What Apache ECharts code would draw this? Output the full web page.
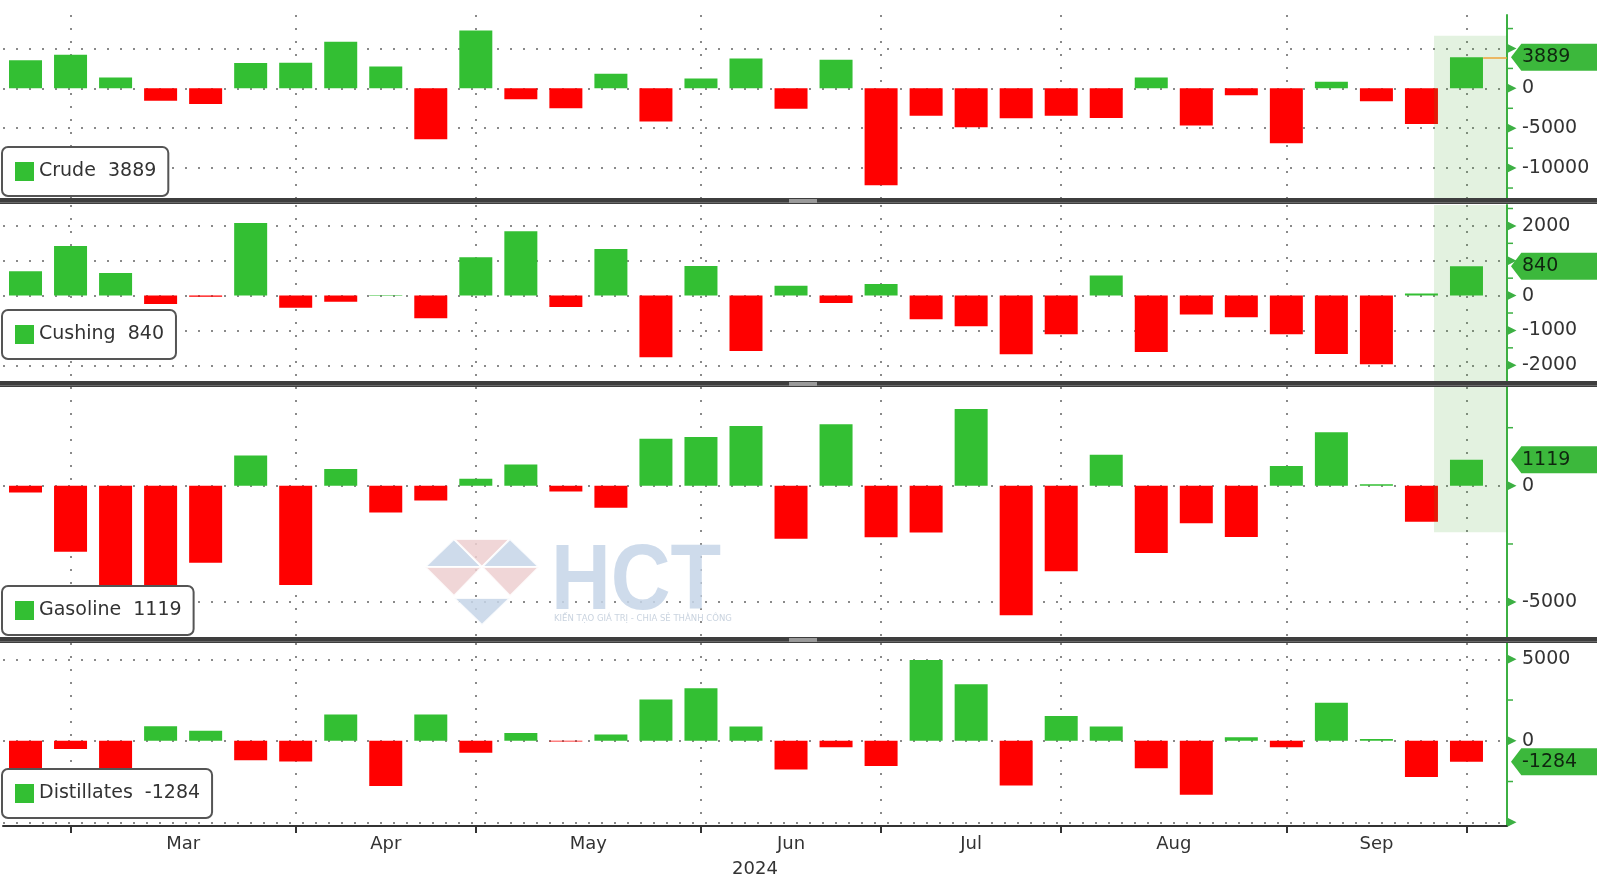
<!DOCTYPE html>
<html><head><meta charset="utf-8">
<script src="https://cdn.jsdelivr.net/npm/echarts@6/dist/echarts.min.js"></script>
<style>html,body{margin:0;padding:0;background:#fff}#c{width:1600px;height:890px}</style>
</head><body><div id="c"></div>
<script>
// ---------------- DATA ----------------
const weeks = ['2024-02-23','2024-03-01','2024-03-08','2024-03-15','2024-03-22','2024-03-29','2024-04-05','2024-04-12','2024-04-19','2024-04-26','2024-05-03','2024-05-10','2024-05-17','2024-05-24','2024-05-31','2024-06-07','2024-06-14','2024-06-21','2024-06-28','2024-07-05','2024-07-12','2024-07-19','2024-07-26','2024-08-02','2024-08-09','2024-08-16','2024-08-23','2024-08-30','2024-09-06','2024-09-13','2024-09-20','2024-09-27','2024-10-04'];
const monthNames = ['Jan','Feb','Mar','Apr','May','Jun','Jul','Aug','Sep','Oct','Nov','Dec'];
const yearLabel = '2024';
const seriesNames = ['Crude','Cushing','Gasoline','Distillates'];
const crude = [3510, 4200, 1370, -1540, -1950, 3170, 3210, 5840, 2740, -6370, 7270, -1360, -2510, 1830, -4160, 1230, 3730, -2550, 3590, -12160, -3440, -4870, -3740, -3440, -3730, 1360, -4650, -850, -6870, 830, -1630, -4470, 3889];
const cushing = [700, 1420, 650, -240, -30, 2080, -350, -180, 20, -650, 1100, 1850, -330, 1340, -1770, 850, -1590, 285, -210, 335, -680, -880, -1680, -1110, 575, -1620, -545, -625, -1110, -1675, -1970, 60, 840];
const gasoline = [-290, -2830, -4460, -5660, -3310, 1300, -4260, 720, -1150, -630, 310, 915, -240, -940, 2020, 2100, 2570, -2280, 2650, -2210, -2010, 3300, -5570, -3670, 1340, -2890, -1610, -2200, 850, 2300, 70, -1540, 1119];
const distillates = [-4010, -500, -4130, 890, 620, -1190, -1270, 1610, -2780, 1610, -730, 480, -50, 380, 2540, 3230, 880, -1760, -390, -1550, 4950, 3470, -2750, 1520, 880, -1680, -3310, 220, -390, 2340, 110, -2230, -1284];
// axis ranges and ticks (value units)
const crudeRange = [-13750, 9200], crudeMajor = [5000, 0, -5000, -10000], crudeLabels = [0, -5000, -10000], crudeMinor = [7500, 2500, -2500, -7500, -12500];
const cushingRange = [-2480, 2600], cushingMajor = [2000, 1000, 0, -1000, -2000], cushingLabels = [2000, 0, -1000, -2000], cushingMinor = [2500, 1500, 500, -500, -1500];
const gasolineRange = [-6500, 4250], gasolineMajor = [0, -5000], gasolineLabels = [0, -5000], gasolineMinor = [2500, -2500];
const distillatesRange = [-5230, 6000], distillatesMajor = [5000, 0, -5000], distillatesLabels = [5000, 0], distillatesMinor = [2500, -2500];
// highlighted (latest) period shading, value extents per panel
const crudeShade = [6600, -13750], cushingShade = [2600, -2480], gasolineShade = [4250, -2000];

// ---------------- STYLE / LAYOUT ----------------
const FONT = "'DejaVu Sans', 'Noto Sans', sans-serif";
const GREEN = '#33bf33', RED = '#ff0000', AXIS_GREEN = '#3cb043', TEXT = '#333';
const X_MIN = -0.5, X_MAX = 32.9;
const layout = [
  {top: 15, height: 183, legendTop: 147},
  {top: 205, height: 177, legendTop: 310},
  {top: 387, height: 250, legendTop: 586},
  {top: 643, height: 183, legendTop: 769}
];
const DOT = {color: '#8a8a8a', width: 2, type: [2, 11]};
const TAG_PATH = 'path://M0,50 L12,0 L100,0 L100,100 L12,100 Z';

const monthStartIdx = weeks.map((d, i) => (i > 0 && d.slice(5, 7) !== weeks[i - 1].slice(5, 7)) ? i : -1).filter(i => i >= 0);
const monthLabelPos = [], monthLabelText = [];
for (let k = 0; k + 1 < monthStartIdx.length; k++) {
  monthLabelPos.push((monthStartIdx[k] + monthStartIdx[k + 1]) / 2);
  monthLabelText.push(monthNames[+weeks[monthStartIdx[k]].slice(5, 7) - 1]);
}

const panels = [
  {name: seriesNames[0], values: crude, range: crudeRange, major: crudeMajor, labels: crudeLabels, minor: crudeMinor, shade: crudeShade, lastLine: true},
  {name: seriesNames[1], values: cushing, range: cushingRange, major: cushingMajor, labels: cushingLabels, minor: cushingMinor, shade: cushingShade},
  {name: seriesNames[2], values: gasoline, range: gasolineRange, major: gasolineMajor, labels: gasolineLabels, minor: gasolineMinor, shade: gasolineShade},
  {name: seriesNames[3], values: distillates, range: distillatesRange, major: distillatesMajor, labels: distillatesLabels, minor: distillatesMinor}
];

const option = {animation: false, backgroundColor: '#fff', grid: [], xAxis: [], yAxis: [], series: [], legend: [], graphic: []};
const lastIdx = weeks.length - 1;

panels.forEach((p, k) => {
  const L = layout[k];
  const isBottom = k === panels.length - 1;
  const last = p.values[lastIdx];
  option.grid.push({left: 3, right: 93, top: L.top, height: L.height});
  option.xAxis.push({
    type: 'value', gridIndex: k, min: X_MIN, max: X_MAX,
    axisLine: {show: isBottom, onZero: false, lineStyle: {color: '#333', width: 2}},
    axisTick: {show: isBottom, customValues: monthStartIdx, length: 7, lineStyle: {color: '#333', width: 2}},
    axisLabel: {show: isBottom, customValues: monthLabelPos, margin: 9,
      formatter: v => monthLabelText[monthLabelPos.indexOf(v)] || '',
      color: TEXT, fontSize: 18, fontFamily: FONT},
    splitLine: {show: true, lineStyle: DOT},
    name: isBottom ? yearLabel : '', nameLocation: 'middle', nameGap: 34,
    nameTextStyle: {color: TEXT, fontSize: 18, fontFamily: FONT}
  });
  option.yAxis.push({
    type: 'value', gridIndex: k, position: 'right', min: p.range[0], max: p.range[1],
    axisLine: {show: true, onZero: false, lineStyle: {color: AXIS_GREEN, width: 2}},
    axisTick: {show: false, customValues: p.major},
    axisLabel: {customValues: p.labels, margin: 15, color: TEXT, fontSize: 19, fontFamily: FONT,
      formatter: v => String(v)},
    splitLine: {show: true, lineStyle: DOT}
  });

  const mpData = p.major.map(v => ({
    coord: [X_MAX, v], symbol: 'triangle', symbolSize: [9, 9], symbolRotate: -90, symbolOffset: [5, 0],
    itemStyle: {color: AXIS_GREEN}, label: {show: false}
  })).concat(p.minor.filter(v => v > p.range[0] && v < p.range[1]).map(v => ({
    coord: [X_MAX, v], symbol: 'rect', symbolSize: [6, 1.5], symbolOffset: [3, 0],
    itemStyle: {color: AXIS_GREEN}, label: {show: false}
  })));
  mpData.push({
    coord: [X_MAX, last], symbol: TAG_PATH, symbolSize: [86, 27], symbolOffset: [47, 0],
    itemStyle: {color: '#3cb83c'},
    label: {show: true, position: 'insideLeft', distance: 11, formatter: String(last),
      color: '#0f260f', fontSize: 19, fontFamily: FONT}
  });

  const s = {
    type: 'bar', name: p.name, xAxisIndex: k, yAxisIndex: k, barWidth: 33, z: 2,
    data: p.values.map((v, i) => [i, v]),
    itemStyle: {color: prm => prm.value[1] >= 0 ? GREEN : RED},
    markPoint: {silent: true, z: 6, data: mpData}
  };
  if (p.shade) {
    s.markArea = {silent: true, z: 3, itemStyle: {color: 'rgba(70,165,50,0.15)'},
      data: [[{coord: [lastIdx - 0.72, p.shade[0]]}, {coord: [X_MAX, p.shade[1]]}]]};
  }
  if (p.lastLine) {
    s.markLine = {silent: true, z: 4, symbol: ['none', 'none'], label: {show: false},
      lineStyle: {color: '#eea53a', width: 1.5, type: 'solid'},
      data: [[{coord: [lastIdx + 0.37, last]}, {coord: [X_MAX, last]}]]};
  }
  option.series.push(s);

  option.legend.push({
    left: 2, top: L.legendTop, orient: 'horizontal', selectedMode: false, z: 10,
    data: [{name: p.name, itemStyle: {color: GREEN}}], icon: 'rect',
    itemWidth: 19, itemHeight: 19, padding: [15, 12, 15, 13],
    borderColor: '#555', borderWidth: 2, borderRadius: 6, backgroundColor: '#fff',
    formatter: n => n + '  ' + last,
    textStyle: {fontSize: 19, color: TEXT, fontFamily: FONT}
  });
});

// panel separators
[198, 381, 637].forEach(y => {
  option.graphic.push({type: 'rect', z: 20, silent: true, shape: {x: 0, y: y, width: 1597, height: 6}, style: {fill: '#3e3e3e'}});
  option.graphic.push({type: 'rect', z: 21, silent: true, shape: {x: 0, y: y + 4, width: 1597, height: 1}, style: {fill: '#6a6a6a'}});
  option.graphic.push({type: 'rect', z: 22, silent: true, shape: {x: 789, y: y + 1, width: 28, height: 4}, style: {fill: '#9a9a9a'}});
});

// watermark
const wmBlue = '#c6d5e7', wmPink = '#edcfd0';
const tri = (pts, fill) => ({type: 'polygon', z: 30, silent: true, shape: {points: pts}, style: {fill: fill, stroke: '#fff', lineWidth: 2, opacity: 0.85}});
option.graphic.push(
  tri([[425, 567], [454, 539], [482, 567]], wmBlue),
  tri([[454, 539], [510, 539], [482, 567]], wmPink),
  tri([[482, 567], [510, 539], [539, 567]], wmBlue),
  tri([[425, 567], [482, 567], [454, 596]], wmPink),
  tri([[482, 567], [539, 567], [510, 596]], wmPink),
  tri([[454, 598], [510, 598], [482, 625]], wmBlue),
  {type: 'text', z: 30, silent: true, x: 551, y: 584, scaleX: 0.9,
    style: {text: 'HCT', fill: wmBlue, opacity: 0.85, font: "bold 92px 'Liberation Sans', sans-serif", textVerticalAlign: 'middle'}},
  {type: 'text', z: 30, silent: true, x: 554, y: 619,
    style: {text: 'KIẾN TẠO GIÁ TRỊ - CHIA SẺ THÀNH CÔNG', fill: '#c3cedc', opacity: 0.9, font: "8.5px 'DejaVu Sans', sans-serif", textVerticalAlign: 'middle'}}
);

const chart = echarts.init(document.getElementById('c'), null, {renderer: 'canvas'});
chart.setOption(option);
</script>
</body></html>
